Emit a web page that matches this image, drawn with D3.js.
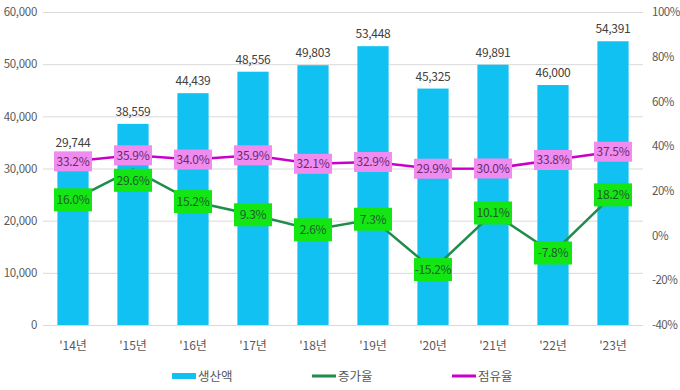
<!DOCTYPE html>
<html>
<head>
<meta charset="utf-8">
<script src="https://cdn.jsdelivr.net/npm/d3@7"></script>
<style>
  body { margin: 0; background: #fff; }
  svg text { font-family: "Noto Sans CJK KR", "Noto Sans", sans-serif; }
</style>
</head>
<body>
<svg id="chart" width="680" height="390"></svg>
<script>
var years = ["'14년", "'15년", "'16년", "'17년", "'18년", "'19년", "'20년", "'21년", "'22년", "'23년"];
var production = [29744, 38559, 44439, 48556, 49803, 53448, 45325, 49891, 46000, 54391];
var growth = [16.0, 29.6, 15.2, 9.3, 2.6, 7.3, -15.2, 10.1, -7.8, 18.2];
var share = [33.2, 35.9, 34.0, 35.9, 32.1, 32.9, 29.9, 30.0, 33.8, 37.5];
var leftTicks = [0, 10000, 20000, 30000, 40000, 50000, 60000];
var rightTicks = [-40, -20, 0, 20, 40, 60, 80, 100];

var svg = d3.select('#chart');
var margin = {top: 12, right: 37, bottom: 65, left: 43};
var width = 680 - margin.left - margin.right,
    height = 390 - margin.top - margin.bottom;

var g = svg.append('g').attr('transform', 'translate(' + margin.left + ',' + margin.top + ')');

var x = d3.scaleBand().domain(years).range([0, width]).paddingInner(0.48).paddingOuter(0.24);
var yL = d3.scaleLinear().domain([0, 60000]).range([height, 0]);
var yR = d3.scaleLinear().domain([-40, 100]).range([height, 0]);

var textColor = '#595959';
var cx = function (i) { return x(years[i]) + x.bandwidth() / 2; };

// gridlines
g.selectAll('.grid').data(leftTicks).enter().append('line')
    .attr('x1', 0).attr('x2', width)
    .attr('y1', function (d) { return yL(d) + 0.5; })
    .attr('y2', function (d) { return yL(d) + 0.5; })
    .attr('stroke', '#d9d9d9').attr('stroke-width', 1);

// left axis
var axL = g.append('g').call(d3.axisLeft(yL).tickValues(leftTicks).tickSize(0).tickPadding(6).tickFormat(d3.format(',')));
axL.select('.domain').remove();
axL.selectAll('text').attr('fill', textColor).attr('font-size', 11.5).attr('letter-spacing', -0.3);

// right axis
var axR = g.append('g').attr('transform', 'translate(' + width + ',0)')
    .call(d3.axisRight(yR).tickValues(rightTicks).tickSize(0).tickPadding(9).tickFormat(function (d) { return d + '%'; }));
axR.select('.domain').remove();
axR.selectAll('text').attr('fill', textColor).attr('font-size', 11.5).attr('letter-spacing', -0.5);

// x axis
var axX = g.append('g').attr('transform', 'translate(0,' + height + ')')
    .call(d3.axisBottom(x).tickSize(0).tickPadding(16));
axX.select('.domain').remove();
axX.selectAll('text').attr('fill', textColor).attr('font-size', 12);

// bars
g.selectAll('.bar').data(production).enter().append('rect')
    .attr('x', function (d, i) { return x(years[i]); })
    .attr('width', x.bandwidth())
    .attr('y', function (d) { return yL(d); })
    .attr('height', function (d) { return height - yL(d); })
    .attr('fill', '#11C1F2');

// bar value labels (kept clear of the share label box)
g.selectAll('.barlabel').data(production).enter().append('text')
    .attr('x', function (d, i) { return cx(i); })
    .attr('y', function (d, i) { return Math.min(yL(d) - 8, yR(share[i]) - 14); })
    .attr('text-anchor', 'middle')
    .attr('font-size', 12)
    .attr('letter-spacing', -0.3)
    .attr('fill', '#404040')
    .text(function (d) { return d3.format(',')(d); });

var line = function (vals) {
    return d3.line()
        .x(function (d, i) { return cx(i); })
        .y(function (d) { return yR(d); })(vals);
};

g.append('path').attr('d', line(growth)).attr('fill', 'none')
    .attr('stroke', '#1E8C4A').attr('stroke-width', 2.5);
g.append('path').attr('d', line(share)).attr('fill', 'none')
    .attr('stroke', '#C800C8').attr('stroke-width', 2.5);

// label centre; a growth box that would hit the share box is pushed below it
function growthY(d, i) {
    var y = yR(d), s = yR(share[i]);
    if (Math.abs(y - s) < 24) y = s + 25;
    return y;
}

function labels(vals, fill, color, h, ypos) {
    var lg = g.selectAll(null).data(vals).enter().append('g')
        .attr('transform', function (d, i) {
            return 'translate(' + cx(i) + ',' + ypos(d, i) + ')';
        });
    lg.append('rect')
        .attr('x', -19).attr('y', -h / 2).attr('width', 38).attr('height', h)
        .attr('fill', fill);
    lg.append('text')
        .attr('text-anchor', 'middle').attr('dy', '0.36em')
        .attr('font-size', 12).attr('letter-spacing', -0.3).attr('fill', color)
        .text(function (d) { return d.toFixed(1) + '%'; });
}
labels(growth, '#14E614', '#1F5C2E', 23, growthY);
labels(share, '#F08CF0', '#6B2A6B', 20, function (d) { return yR(d); });

// legend
var legend = [
    {name: '생산액', color: '#11C1F2', x: 172, w: 6},
    {name: '증가율', color: '#1E8C4A', x: 312, w: 3},
    {name: '점유율', color: '#C800C8', x: 452, w: 3}
];
var lgd = svg.selectAll('.legend').data(legend).enter().append('g')
    .attr('transform', function (d) { return 'translate(' + d.x + ',376)'; });
lgd.append('rect')
    .attr('x', 0).attr('y', function (d) { return -d.w / 2; })
    .attr('width', 24).attr('height', function (d) { return d.w; })
    .attr('fill', function (d) { return d.color; });
lgd.append('text')
    .attr('x', 26).attr('dy', '0.36em')
    .attr('font-size', 12.5).attr('fill', textColor)
    .text(function (d) { return d.name; });
</script>
</body>
</html>
